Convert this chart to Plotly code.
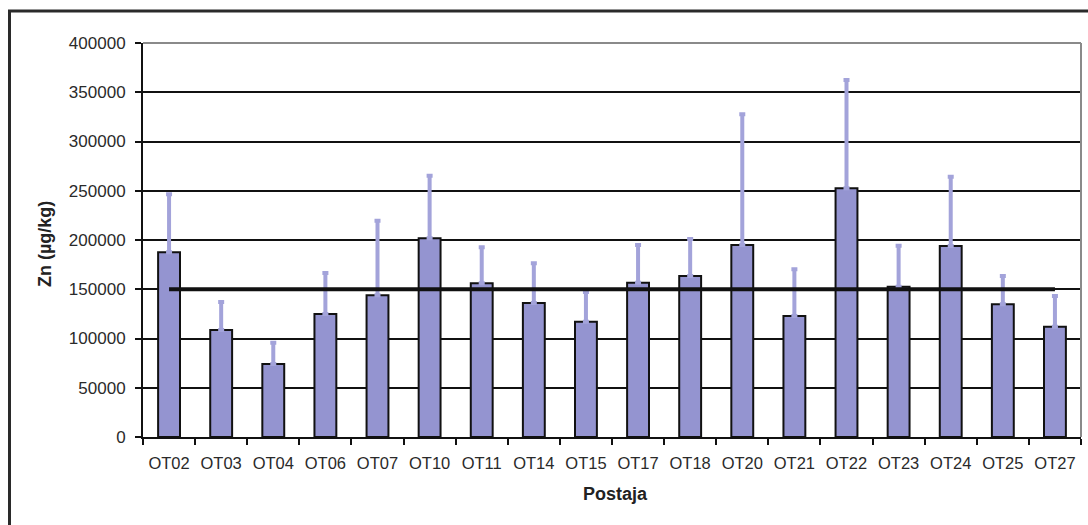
import plotly.graph_objects as go

stations = ["OT02", "OT03", "OT04", "OT06", "OT07", "OT10", "OT11", "OT14", "OT15",
            "OT17", "OT18", "OT20", "OT21", "OT22", "OT23", "OT24", "OT25", "OT27"]
zn_mean = [187500, 108600, 74100, 124900, 143800, 201700, 156000, 136000, 117100,
           156700, 163400, 194900, 122800, 252500, 152600, 193900, 134700, 112000]
zn_sd = [59000, 28400, 21600, 41600, 75800, 63600, 36600, 40300, 30000,
         38200, 37600, 132700, 47400, 109900, 41600, 70400, 28700, 31100]
reference_level = 150000
y_ticks = [0, 50000, 100000, 150000, 200000, 250000, 300000, 350000, 400000]

W, H = 1088, 525
L, R, T, B = 143, 7, 43, 88
pw, ph = W - L - R, H - T - B

def px_to_paper_x(px):
    return (px - L) / pw

def px_to_paper_y(py):
    return (H - B - py) / ph

font_family = "Liberation Sans, Arial, sans-serif"

fig = go.Figure()
fig.add_trace(go.Bar(
    x=stations, y=zn_mean,
    marker=dict(color="#9494D0", line=dict(color="#111111", width=2)),
    error_y=dict(type="data", array=zn_sd, arrayminus=[0] * len(zn_sd),
                 symmetric=False, color="#A3A3DA", thickness=4, width=3),
    showlegend=False,
))
fig.add_trace(go.Scatter(
    x=[stations[0], stations[-1]], y=[reference_level, reference_level],
    mode="lines", line=dict(color="#111111", width=4), showlegend=False,
))

fig.update_layout(
    width=W, height=H,
    margin=dict(l=L, r=R, t=T, b=B),
    paper_bgcolor="white", plot_bgcolor="white",
    bargap=0.58,
    font=dict(family=font_family, size=17, color="#2a2a2a"),
    xaxis=dict(
        showgrid=False, showline=True, linecolor="#111111", linewidth=2,
        ticks="outside", tickson="boundaries", ticklen=6, tickwidth=2, tickcolor="#111111",
        tickfont=dict(size=16.5), tickangle=0, ticklabelstandoff=10,
        automargin=False, fixedrange=True,
    ),
    yaxis=dict(
        range=[0, 400000], tickvals=y_ticks, ticktext=[str(v) for v in y_ticks],
        showgrid=True, gridcolor="#111111", gridwidth=2,
        showline=True, linecolor="#111111", linewidth=2,
        ticks="outside", ticklen=6, tickwidth=2, tickcolor="#111111",
        tickfont=dict(size=17), ticklabelstandoff=6, zeroline=False,
        automargin=False, fixedrange=True,
    ),
    shapes=[
        # plot area grey top/right border
        dict(type="line", xref="paper", yref="paper", x0=0, x1=1, y0=1, y1=1,
             line=dict(color="#8a8a8a", width=2)),
        dict(type="line", xref="paper", yref="paper", x0=1, x1=1, y0=0, y1=1,
             line=dict(color="#8a8a8a", width=2)),
        # outer frame
        dict(type="line", xref="paper", yref="paper",
             x0=px_to_paper_x(9.5), x1=px_to_paper_x(9.5),
             y0=px_to_paper_y(530), y1=px_to_paper_y(10.5),
             line=dict(color="#2a2a2a", width=3)),
        dict(type="line", xref="paper", yref="paper",
             x0=px_to_paper_x(8), x1=px_to_paper_x(1095),
             y0=px_to_paper_y(11), y1=px_to_paper_y(11),
             line=dict(color="#2a2a2a", width=3)),
    ],
    annotations=[
        dict(text="<b>Postaja</b>", xref="paper", yref="paper",
             x=px_to_paper_x(615), y=px_to_paper_y(494), showarrow=False,
             font=dict(size=18, color="#222222"), xanchor="center", yanchor="middle"),
        dict(text="<b>Zn (µg/kg)</b>", xref="paper", yref="paper",
             x=px_to_paper_x(45), y=px_to_paper_y(244), showarrow=False, textangle=-90,
             font=dict(size=18, color="#222222"), xanchor="center", yanchor="middle"),
    ],
)

fig.write_html("out.html")
